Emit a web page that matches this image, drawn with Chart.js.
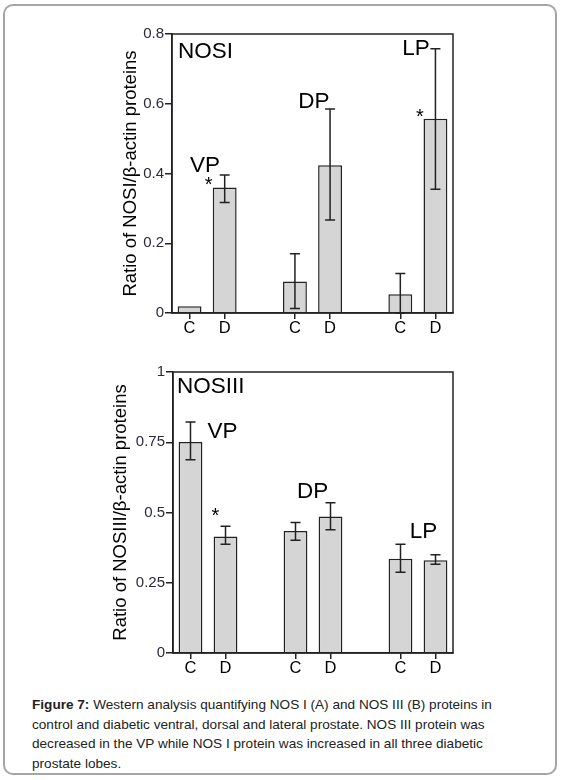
<!DOCTYPE html>
<html>
<head>
<meta charset="utf-8">
<script src="https://cdn.jsdelivr.net/npm/chart.js@4.4.1/dist/chart.umd.min.js"></script>
<style>
  html, body { margin: 0; padding: 0; background: #fff; }
  body { width: 561px; height: 780px; position: relative; overflow: hidden; font-family: "Liberation Sans", Arial, sans-serif; }
  #frame { position: absolute; left: 3px; top: 4px; width: 554px; height: 771px; box-sizing: border-box; border: 2px solid #a5a5a5; border-radius: 10px; }
  #cA { position: absolute; left: 0; top: 0; }
  #cB { position: absolute; left: 0; top: 345px; }
  #caption { position: absolute; left: 32px; top: 695px; font-size: 13.6px; line-height: 19.6px; color: #222; white-space: nowrap; }
</style>
</head>
<body>
<div id="frame"></div>
<canvas id="cA" width="561" height="345"></canvas>
<canvas id="cB" width="561" height="335"></canvas>
<div id="caption"><b>Figure 7:</b> Western analysis quantifying NOS I (A) and NOS III (B) proteins in<br>control and diabetic ventral, dorsal and lateral prostate. NOS III protein was<br>decreased in the VP while NOS I protein was increased in all three diabetic<br>prostate lobes.</div>
<script>
// ---- data ----
const categories = ['C', 'D', '', 'C', 'D', '', 'C', 'D'];
const nosI     = [0.019, 0.360, null, 0.090, 0.424, null, 0.054, 0.557];
const nosIHi   = [null,  0.396, null, 0.170, 0.585, null, 0.113, 0.758];
const nosILo   = [null,  0.317, null, 0.013, 0.267, null, 0.000, 0.355];
const nosIII   = [0.751, 0.415, null, 0.434, 0.486, null, 0.335, 0.330];
const nosIIIHi = [0.822, 0.451, null, 0.464, 0.535, null, 0.387, 0.350];
const nosIIILo = [0.688, 0.387, null, 0.401, 0.439, null, 0.287, 0.316];
const yTicksA = [0, 0.2, 0.4, 0.6, 0.8];
const yTicksB = [0, 0.25, 0.5, 0.75, 1];
// text notes: [text, category position, value]
const notesTextA = ['NOSI', 'VP', 'DP', 'LP', '*', '*'];
const notesPosA  = [-0.33, 0.44, 3.54, 6.45, 0.54, 6.56];
const notesValA  = [0.731, 0.404, 0.588, 0.740, 0.352, 0.548];
const notesTextB = ['NOSIII', 'VP', 'DP', 'LP', '*'];
const notesPosB  = [-0.386, 0.914, 3.49, 6.66, 0.71];
const notesValB  = [0.924, 0.764, 0.551, 0.408, 0.468];

const FONT = '"Liberation Sans", Arial, sans-serif';
const INK = '#222';

const extras = {
  id: 'extras',
  afterDatasetsDraw(chart, args, opts) {
    const ctx = chart.ctx;
    const xs = chart.scales.x, ys = chart.scales.y;
    const meta = chart.getDatasetMeta(0);
    ctx.save();
    ctx.strokeStyle = INK;
    ctx.lineWidth = 1.5;
    // error bars
    opts.hi.forEach((h, i) => {
      if (h == null) return;
      const x = meta.data[i].x;
      const yh = ys.getPixelForValue(h);
      const yl = ys.getPixelForValue(opts.lo[i]);
      const cw = 5;
      ctx.beginPath();
      ctx.moveTo(x, yh); ctx.lineTo(x, yl);
      ctx.moveTo(x - cw, yh); ctx.lineTo(x + cw, yh);
      ctx.moveTo(x - cw, yl); ctx.lineTo(x + cw, yl);
      ctx.stroke();
    });
    // frame
    const a = chart.chartArea;
    ctx.strokeRect(a.left, a.top, a.right - a.left, a.bottom - a.top);
    // notes
    ctx.fillStyle = '#000';
    ctx.textBaseline = 'alphabetic';
    opts.texts.forEach((t, i) => {
      const star = t === '*';
      ctx.font = (star ? '20px ' : '22.5px ') + FONT;
      const px = xs.getPixelForValue(0) + opts.pos[i] * (xs.getPixelForValue(1) - xs.getPixelForValue(0));
      const py = ys.getPixelForValue(opts.val[i]);
      ctx.textAlign = (i === 0) ? 'left' : 'center';
      ctx.fillText(t, px, py + (star ? 1 : 0));
    });
    ctx.restore();
  }
};

function makeChart(id, values, hi, lo, ticks, ymax, title, leftPad, yWidth, padTop, padBottom, texts, pos, val) {
  return new Chart(document.getElementById(id), {
    type: 'bar',
    data: {
      labels: categories,
      datasets: [{
        data: values,
        backgroundColor: '#d5d5d5',
        borderColor: INK,
        borderWidth: 1.5,
        categoryPercentage: 1,
        barPercentage: 0.68
      }]
    },
    options: {
      responsive: false,
      animation: false,
      devicePixelRatio: 1,
      layout: { padding: { left: leftPad, right: 108, top: padTop, bottom: padBottom } },
      plugins: {
        legend: { display: false },
        tooltip: { enabled: false },
        extras: { hi: hi, lo: lo, texts: texts, pos: pos, val: val }
      },
      scales: {
        x: {
          offset: true,
          grid: {
            offset: false, drawOnChartArea: false, drawTicks: true, tickLength: 6, lineWidth: 1.5,
            tickColor: (c) => categories[c.index] ? INK : 'rgba(0,0,0,0)'
          },
          border: { display: true, color: INK, width: 1.5 },
          ticks: { autoSkip: false, maxRotation: 0, padding: 0, color: '#000', font: { size: 16.5, family: FONT } },
          afterFit: (s) => { s.height = 20; }
        },
        y: {
          min: 0, max: ymax,
          afterBuildTicks: (s) => { s.ticks = ticks.map(v => ({ value: v })); },
          grid: { drawOnChartArea: false, drawTicks: true, tickLength: 7, lineWidth: 1.5, tickColor: INK },
          border: { display: true, color: INK, width: 1.5 },
          ticks: { padding: 1, color: '#2a2a3a', font: { size: 15, family: FONT }, callback: (v) => String(v) },
          title: { display: true, text: title, color: '#000', font: { size: 18.5, family: FONT }, padding: { top: 4, bottom: 4 } },
          afterFit: (s) => { s.width = yWidth; }
        }
      }
    },
    plugins: [extras]
  });
}

makeChart('cA', nosI, nosIHi, nosILo, yTicksA, 0.8, 'Ratio of NOSI/\u03b2-actin proteins', 116, 56, 34, 12, notesTextA, notesPosA, notesValA);
makeChart('cB', nosIII, nosIIIHi, nosIIILo, yTicksB, 1, 'Ratio of NOSIII/\u03b2-actin proteins', 106, 67, 27, 7, notesTextB, notesPosB, notesValB);
</script>
</body>
</html>
